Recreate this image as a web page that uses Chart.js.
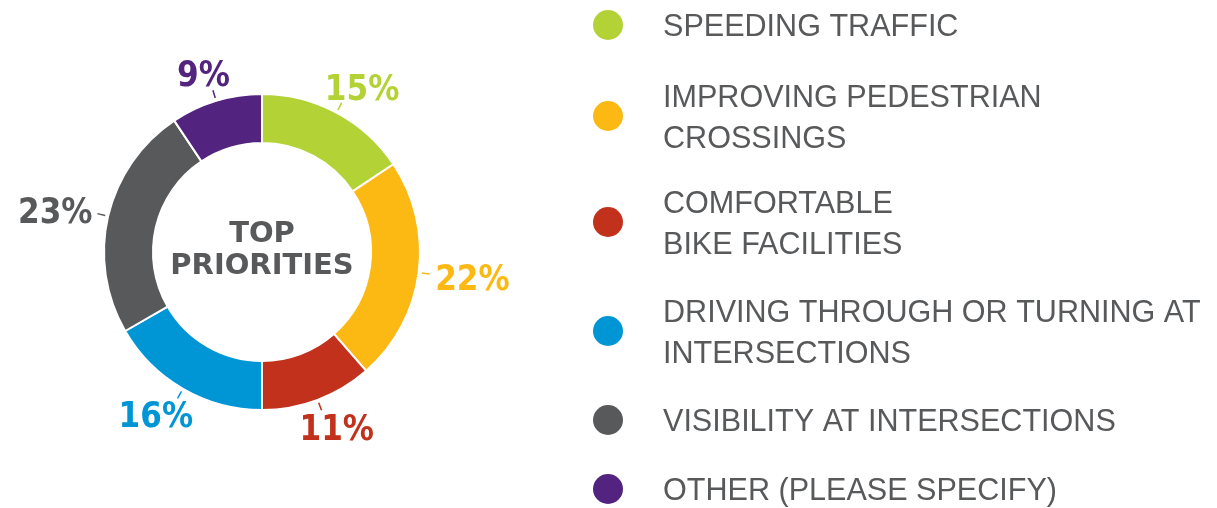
<!DOCTYPE html>
<html>
<head>
<meta charset="utf-8">
<script src="https://cdn.jsdelivr.net/npm/chart.js@4"></script>
<style>
  html, body { margin: 0; padding: 0; background: #fff; }
  #wrap { width: 1217px; height: 508px; }
</style>
</head>
<body>
<div id="wrap"><canvas id="priorities" width="1217" height="508"></canvas></div>
<script>
const categories = [
  ['SPEEDING TRAFFIC'],
  ['IMPROVING PEDESTRIAN', 'CROSSINGS'],
  ['COMFORTABLE', 'BIKE FACILITIES'],
  ['DRIVING THROUGH OR TURNING AT', 'INTERSECTIONS'],
  ['VISIBILITY AT INTERSECTIONS'],
  ['OTHER (PLEASE SPECIFY)']
];
const shares = [15, 22, 11, 16, 23, 9];
const colors = ['#b2d235', '#fdb913', '#c1311b', '#0096d6', '#58595b', '#532380'];
const legendRows = [25, 116, 222, 331, 420, 489];
const centerLines = ['TOP', 'PRIORITIES'];

const textGray = '#58595b';

// labels with short leader ticks around the ring
const outsideLabels = {
  id: 'outsideLabels',
  afterDatasetsDraw(chart) {
    const ctx = chart.ctx;
    const arcs = chart.getDatasetMeta(0).data;
    ctx.save();
    ctx.font = 'bold 35px "DejaVu Sans"';
    ctx.textBaseline = 'middle';
    ctx.textAlign = 'center';
    const sx = 0.89;
    arcs.forEach((arc, i) => {
      const mid = (arc.startAngle + arc.endAngle) / 2;
      const cx = arc.x, cy = arc.y, r = arc.outerRadius;
      const c = Math.cos(mid), s = Math.sin(mid);
      ctx.strokeStyle = colors[i];
      ctx.lineWidth = 1.5;
      ctx.beginPath();
      ctx.moveTo(cx + c * (r + 3), cy + s * (r + 3));
      ctx.lineTo(cx + c * (r + 11), cy + s * (r + 11));
      ctx.stroke();
      const txt = shares[i] + '%';
      const w = ctx.measureText(txt).width * sx;
      const ax = cx + c * (r + 15), ay = cy + s * (r + 15);
      ctx.fillStyle = colors[i];
      ctx.save();
      ctx.translate(ax + c * (w / 2 + 2), ay + s * 14 + 4);
      ctx.scale(sx, 1);
      ctx.fillText(txt, 0, 0);
      ctx.restore();
    });
    // center title
    ctx.fillStyle = textGray;
    ctx.font = 'bold 29px "DejaVu Sans"';
    const a0 = arcs[0];
    ctx.fillText(centerLines[0], a0.x, a0.y - 18);
    ctx.fillText(centerLines[1], a0.x, a0.y + 14);
    ctx.restore();
  }
};

// legend on the right, dots + wrapped labels
const sideLegend = {
  id: 'sideLegend',
  afterDraw(chart) {
    const ctx = chart.ctx;
    ctx.save();
    ctx.textBaseline = 'middle';
    ctx.textAlign = 'left';
    categories.forEach((lines, i) => {
      const y = legendRows[i];
      ctx.fillStyle = colors[i];
      ctx.beginPath();
      ctx.arc(608, y, 15, 0, Math.PI * 2);
      ctx.fill();
      ctx.fillStyle = textGray;
      ctx.font = '32px "Liberation Sans", Arial, sans-serif';
      const top = y - (lines.length - 1) * 20 + (lines.length > 1 ? 2 : 2);
      lines.forEach((ln, j) => {
        ctx.save();
        ctx.translate(663, top + j * 41);
        ctx.scale(0.955, 1);
        ctx.fillText(ln, 0, 0);
        ctx.restore();
      });
    });
    ctx.restore();
  }
};

new Chart(document.getElementById('priorities'), {
  type: 'doughnut',
  data: {
    labels: categories.map(l => l.join(' ')),
    datasets: [{
      data: shares,
      backgroundColor: colors,
      borderColor: '#ffffff',
      borderWidth: 2
    }]
  },
  options: {
    responsive: false,
    animation: false,
    radius: 158,
    cutout: '69%',
    layout: { padding: { left: 0, top: 0, right: 693, bottom: 4 } },
    plugins: {
      legend: { display: false },
      tooltip: { enabled: false }
    }
  },
  plugins: [outsideLabels, sideLegend]
});
</script>
</body>
</html>
